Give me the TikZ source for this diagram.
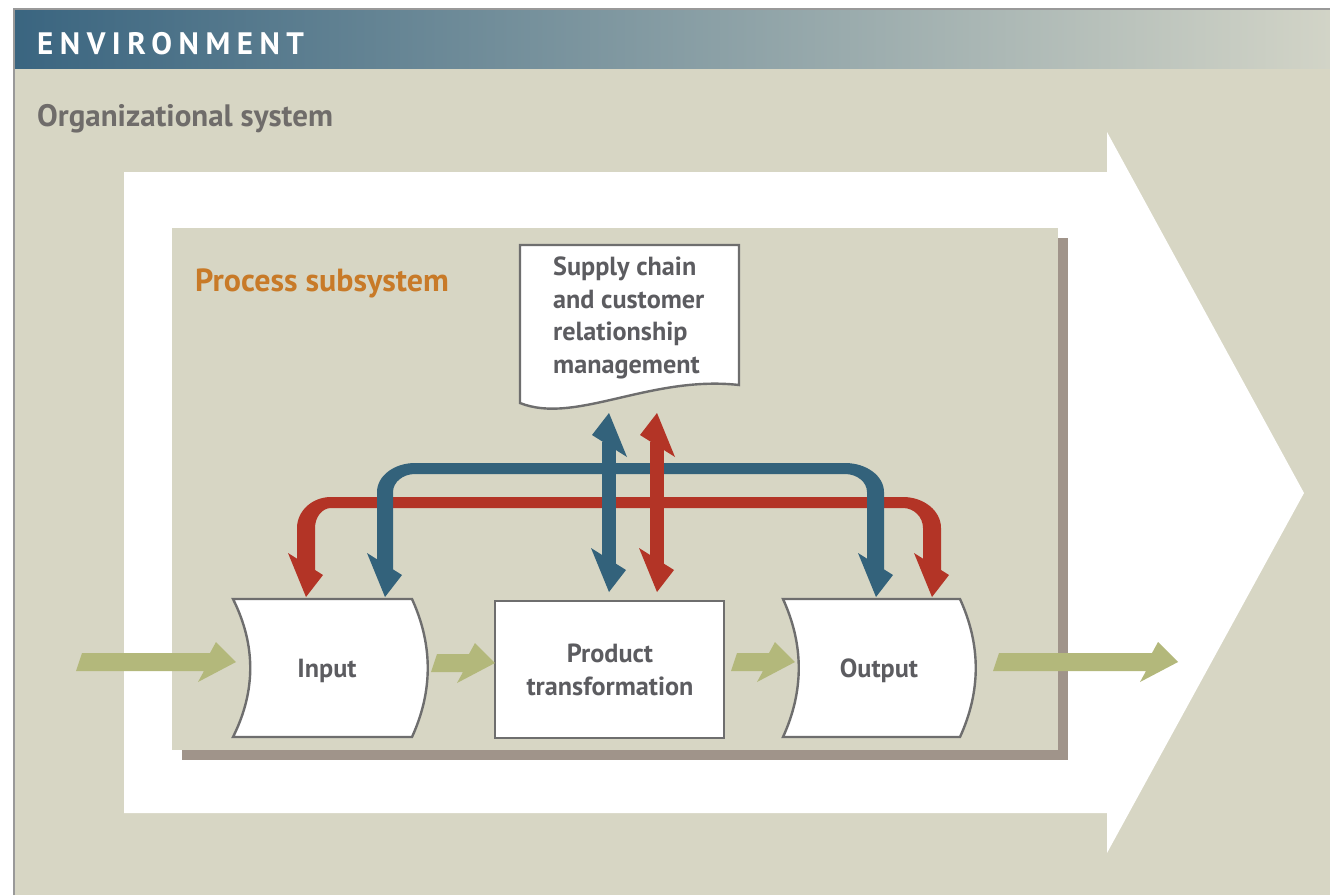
\documentclass[tikz,border=0pt]{standalone}
\usepackage{fontspec}
\setmainfont{PT Sans}
\definecolor{envbg}{HTML}{D7D6C4}
\definecolor{hdrL}{HTML}{3A6580}
\definecolor{hdrR}{HTML}{D2D4C7}
\definecolor{shadowc}{HTML}{A0948A}
\definecolor{blueA}{HTML}{33627B}
\definecolor{redA}{HTML}{B33426}
\definecolor{greenA}{HTML}{B3B87B}
\definecolor{txtgray}{HTML}{5C5C60}
\definecolor{orgtxt}{HTML}{6F6C6A}
\definecolor{orangeA}{HTML}{C87A28}
\definecolor{outl}{HTML}{6E6E6E}
\newcommand\GArr[3]{\fill[greenA] (#1+6,#3-9) -- (#2-26,#3-9) -- (#2-20,#3-20) -- (#2,#3) -- (#2-38,#3+20) -- (#2-32,#3+9) -- (#1,#3+9) -- cycle;}
\newcommand\DHead[3]{\fill[#3] (#1-18,#2-44) -- (#1+17,#2-22) -- (#1,#2) -- cycle;}
\newcommand\UHead[3]{\fill[#3] (#1-17,#2+22) -- (#1+18,#2+44) -- (#1,#2) -- cycle;}
\tikzset{
  shapeline/.style={draw=outl, line width=2.4pt, fill=white, line join=miter},
  boxtext/.style={font=\fontsize{26.2}{32.5}\selectfont\bfseries, text=txtgray, inner sep=0pt},
  titletext/.style={font=\fontsize{31.5}{36}\selectfont\bfseries, inner sep=0pt, anchor=base west}
}
\begin{document}
\begin{tikzpicture}[x=1pt,y=-1pt]
\useasboundingbox (0,0) rectangle (1330,895);
\fill[white] (0,0) rectangle (1330,895);
\fill[envbg] (14,9) rectangle (1330,895);
\shade[left color=hdrL, right color=hdrR] (14,9) rectangle (1330,68);
\draw[gray!80, line width=1.5pt] (14,895) -- (14,9) -- (1330,9);
\node[titletext, text=white, font=\fontsize{31}{36}\selectfont\bfseries\addfontfeature{LetterSpace=21}] (env) at (37,54) {ENVIRONMENT};
\node[titletext, text=orgtxt, font=\fontsize{31}{36}\selectfont\bfseries] (org) at (37,126) {Organizational system};
% big white arrow
\fill[white] (124,172) -- (1107,172) -- (1107,132) -- (1304,493) -- (1107,853) -- (1107,813) -- (124,813) -- cycle;
% process subsystem box
\fill[shadowc] (182,238) rectangle (1068,760);
\fill[envbg] (172,228) rectangle (1058,750);
\node[titletext, text=orangeA, font=\fontsize{32}{36}\selectfont\bfseries] (proc) at (195,291) {Process subsystem};
% document shape
\draw[shapeline] (520,245) -- (739,245) -- (739,385) .. controls (650,375) and (575,425) .. (520,403) -- cycle;
\node[boxtext, anchor=west, align=left] (scm) at (553,318) {Supply chain\\and customer\\relationship\\management};
% input / product / output shapes
\draw[shapeline] (233,599) -- (412,599) .. controls (433,645) and (433,691) .. (412,737) -- (233,737) .. controls (256,691) and (256,645) .. (233,599) -- cycle;
\draw[shapeline] (495,601) rectangle (724,738);
\draw[shapeline] (783,599) -- (960,599) .. controls (981,645) and (981,691) .. (960,737) -- (783,737) .. controls (804,691) and (804,645) .. (783,599) -- cycle;
\node[boxtext, anchor=base] (input) at (327,677) {Input};
\node[boxtext, align=center] (prod) at (610,670) {Product\\transformation};
\node[boxtext, anchor=base] (output) at (879,677) {Output};
% green flow arrows
\GArr{76}{236}{662}
\GArr{431}{495}{663}
\GArr{731}{795}{662}
\GArr{993}{1178}{662}
% red loop
\fill[redA] (297,572) -- (297,528) .. controls (297,510.9) and (312.2,497) .. (331,497) -- (903,497) .. controls (924,497) and (941,510.9) .. (941,528) -- (941,572) -- (923,572) -- (923,528) .. controls (923,517) and (914,508) .. (903,508) -- (331,508) .. controls (322.2,508) and (315,517) .. (315,528) -- (315,572) -- cycle;
\DHead{306}{597}{redA}
\DHead{932}{597}{redA}
% blue loop
\fill[blueA] (377,572) -- (377,492) .. controls (377,476) and (394,463) .. (415,463) -- (845,463) .. controls (866.5,463) and (884,476) .. (884,492) -- (884,572) -- (867,572) -- (867,492) .. controls (867,482.1) and (857.1,474) .. (845,474) -- (415,474) .. controls (402.9,474) and (393,482.1) .. (393,492) -- (393,572) -- cycle;
\DHead{385}{597}{blueA}
\DHead{876}{597}{blueA}
% middle double arrows
\fill[blueA] (602,442) rectangle (616,566);
\UHead{609}{413}{blueA}
\DHead{609}{592}{blueA}
\fill[redA] (650,442) rectangle (664,566);
\UHead{657}{413}{redA}
\DHead{657}{592}{redA}
\end{tikzpicture}
\end{document}
